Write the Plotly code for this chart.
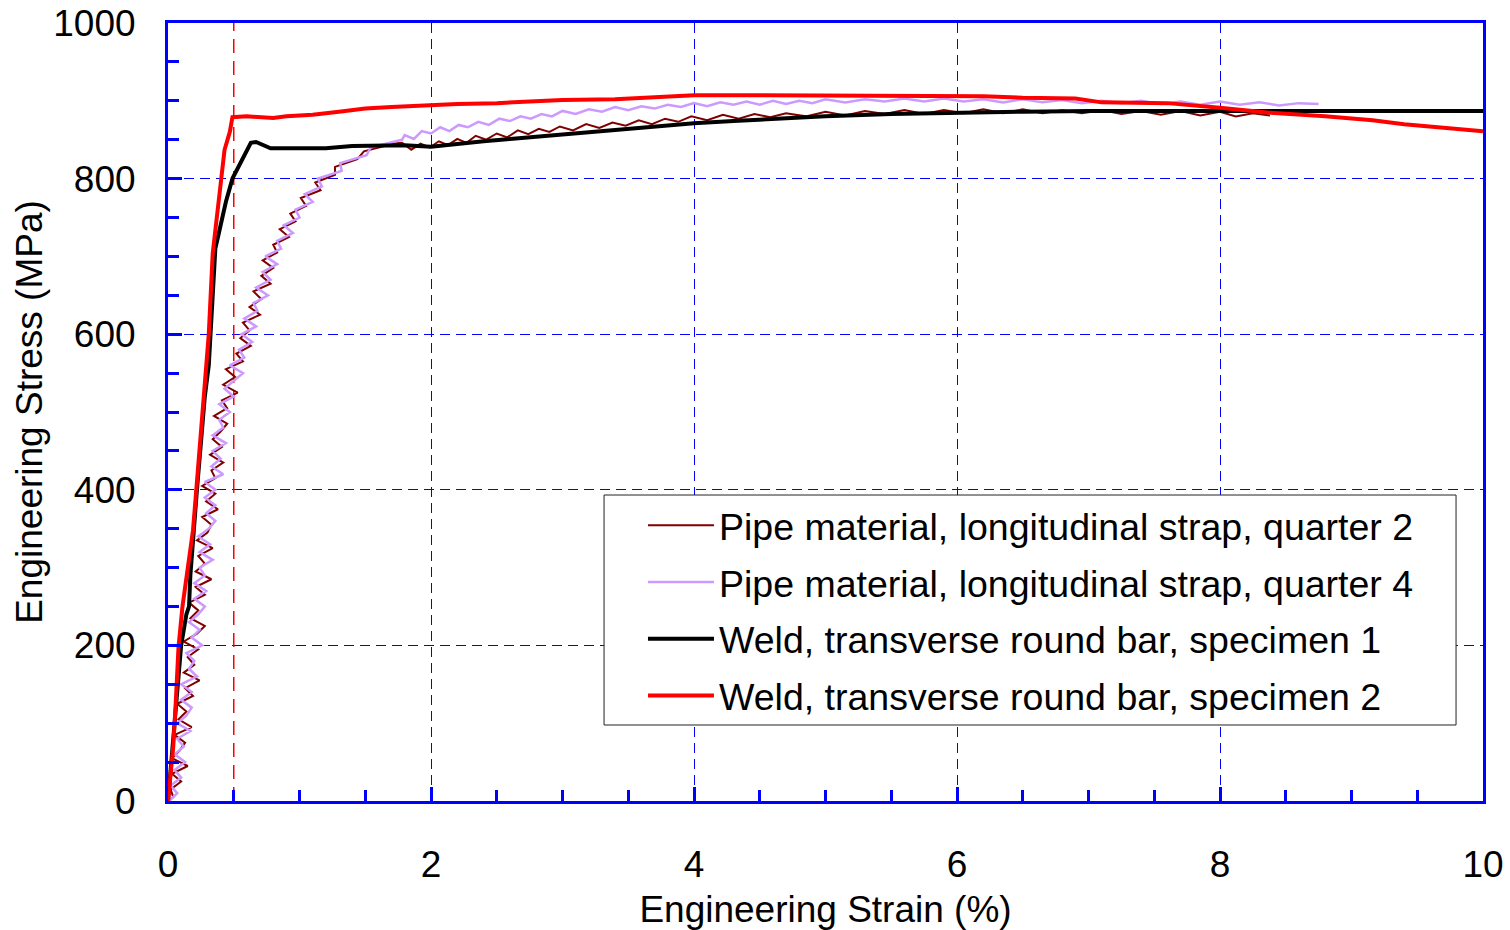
import plotly.graph_objects as go

# ---------------- data ----------------
# Pipe material, longitudinal strap, quarter 2 (noisy record)
q2_strain = [0.00, 0.04, 0.02, 0.10, 0.03, 0.15, 0.03, 0.09, 0.13, 0.05, 0.18, 0.08, 0.14, 0.07, 0.19, 0.13,
             0.24, 0.12, 0.20, 0.15, 0.23, 0.12, 0.22, 0.28, 0.17, 0.23, 0.16, 0.28, 0.21, 0.33, 0.21,
             0.28, 0.23, 0.34, 0.22, 0.30, 0.33, 0.26, 0.38, 0.29, 0.36, 0.26, 0.36, 0.33, 0.42, 0.32,
             0.41, 0.34, 0.40, 0.45, 0.35, 0.45, 0.41, 0.53, 0.42, 0.51, 0.44, 0.57, 0.52, 0.63, 0.55,
             0.62, 0.57, 0.70, 0.62, 0.71, 0.65, 0.78, 0.71, 0.80, 0.72, 0.83, 0.80, 0.92, 0.85, 0.97,
             0.93, 1.05, 1.01, 1.16, 1.12, 1.27, 1.27, 1.44, 1.49, 1.72,
             1.78, 1.85, 1.92, 1.99, 2.06, 2.13, 2.20, 2.27, 2.34, 2.42, 2.50, 2.58, 2.66, 2.74, 2.82, 2.90,
             2.98, 3.08, 3.18, 3.28, 3.38, 3.48, 3.58, 3.68, 3.78, 3.88, 3.98, 4.10, 4.22, 4.34, 4.46, 4.58,
             4.70, 4.85, 5.00, 5.15, 5.30, 5.45, 5.60, 5.75, 5.90, 6.05, 6.20, 6.35, 6.50, 6.65, 6.80, 6.95,
             7.10, 7.25, 7.40, 7.55, 7.70, 7.85, 8.00, 8.12, 8.25, 8.38]
q2_stress = [0, 5, 15, 25, 35, 45, 55, 65, 75, 85, 95, 105, 115, 125, 135, 145,
             155, 165, 175, 185, 195, 205, 215, 225, 235, 245, 255, 265, 275, 285, 295,
             305, 315, 325, 335, 345, 355, 365, 375, 385, 395, 405, 415, 425, 435, 445,
             455, 465, 475, 485, 495, 505, 515, 525, 535, 545, 555, 565, 575, 585, 595,
             605, 615, 625, 635, 645, 655, 665, 675, 685, 695, 705, 715, 725, 735, 745,
             755, 765, 775, 785, 795, 805, 815, 825, 835, 845,
             846, 837, 845, 840, 848, 843, 851, 846, 855, 850, 858, 853, 862, 857, 864, 860,
             867, 862, 870, 865, 872, 868, 875, 870, 877, 873, 880, 875, 882, 877, 883, 879,
             884, 880, 886, 881, 887, 883, 888, 883, 888, 884, 889, 884, 889, 884, 888, 884,
             888, 883, 887, 882, 887, 881, 886, 880, 884, 881]

# Pipe material, longitudinal strap, quarter 4 (noisy record)
q4_strain = [0.01, 0.07, 0.02, 0.10, 0.05, 0.13, 0.05, 0.12, 0.07, 0.17, 0.07, 0.14, 0.18, 0.10, 0.18, 0.10,
             0.22, 0.16, 0.20, 0.14, 0.26, 0.18, 0.24, 0.16, 0.23, 0.28, 0.20, 0.29, 0.20, 0.28, 0.24,
             0.34, 0.24, 0.32, 0.23, 0.31, 0.36, 0.29, 0.36, 0.28, 0.36, 0.28, 0.42, 0.33, 0.40, 0.34,
             0.44, 0.34, 0.42, 0.39, 0.47, 0.39, 0.50, 0.43, 0.50, 0.57, 0.47, 0.58, 0.54, 0.64, 0.56,
             0.67, 0.58, 0.68, 0.65, 0.76, 0.67, 0.78, 0.72, 0.83, 0.74, 0.86, 0.83, 0.95, 0.88, 1.00,
             0.97, 1.10, 1.04, 1.17, 1.14, 1.32, 1.31, 1.51, 1.54, 1.78,
             1.80, 1.87, 1.93, 2.00, 2.07, 2.14, 2.21, 2.28, 2.36, 2.44, 2.52, 2.60, 2.68, 2.76, 2.84, 2.92,
             3.00, 3.10, 3.20, 3.30, 3.40, 3.50, 3.60, 3.70, 3.80, 3.90, 4.00, 4.10, 4.20, 4.30, 4.40, 4.50,
             4.60, 4.70, 4.80, 4.90, 5.00, 5.15, 5.30, 5.45, 5.60, 5.75, 5.90, 6.05, 6.20, 6.35, 6.50, 6.65,
             6.80, 6.95, 7.10, 7.25, 7.40, 7.55, 7.70, 7.85, 8.00, 8.15, 8.30, 8.45, 8.60, 8.75]
q4_stress = [0, 10, 20, 30, 40, 50, 60, 70, 80, 90, 100, 110, 120, 130, 140, 150,
             160, 170, 180, 190, 200, 210, 220, 230, 240, 250, 260, 270, 280, 290, 300,
             310, 320, 330, 340, 350, 360, 370, 380, 390, 400, 410, 420, 430, 440, 450,
             460, 470, 480, 490, 500, 510, 520, 530, 540, 550, 560, 570, 580, 590, 600,
             610, 620, 630, 640, 650, 660, 670, 680, 690, 700, 710, 720, 730, 740, 750,
             760, 770, 780, 790, 800, 810, 820, 830, 840, 850,
             856, 851, 861, 858, 866, 861, 869, 866, 873, 869, 877, 874, 880, 877, 883, 880,
             887, 883, 889, 886, 892, 888, 893, 890, 895, 892, 897, 893, 898, 895, 899, 895,
             900, 896, 900, 897, 902, 898, 902, 899, 903, 899, 903, 899, 902, 898, 902, 898,
             901, 897, 900, 897, 900, 896, 899, 895, 899, 895, 898, 894, 897, 896]

# Weld, transverse round bar, specimen 1
w1_strain = [0.00, 0.02, 0.04, 0.07, 0.10, 0.14, 0.16, 0.17, 0.19, 0.22, 0.25, 0.28, 0.31, 0.33, 0.35, 0.36,
             0.38, 0.40, 0.44, 0.49, 0.55, 0.60, 0.63, 0.67, 0.72, 0.78, 1.00, 1.20, 1.40, 1.60, 1.80, 2.00,
             2.20, 2.40, 2.60, 2.80, 3.00, 3.20, 3.40, 3.60, 3.80, 4.00, 4.30, 4.60, 5.00, 5.50, 6.00, 6.50,
             7.00, 7.50, 8.00, 8.50, 9.00, 9.50, 10.00]
w1_stress = [0, 40, 70, 130, 200, 240, 250, 290, 340, 400, 460, 520, 560, 620, 680, 710,
             725, 740, 770, 800, 820, 835, 846, 847, 843, 839, 839, 839, 842, 843, 843, 841,
             845, 848, 851, 854, 857, 859, 862, 865, 868, 871, 874, 877, 880, 883, 885, 886,
             887, 887, 888, 888, 888, 888, 887]

# Weld, transverse round bar, specimen 2
w2_strain = [0.00, 0.02, 0.04, 0.06, 0.08, 0.11, 0.14, 0.17, 0.19, 0.22, 0.25, 0.28, 0.31, 0.34, 0.38, 0.43,
             0.47, 0.48, 0.49, 0.60, 0.80, 0.90, 1.10, 1.30, 1.50, 1.70, 1.90, 2.00, 2.20, 2.50, 2.80, 3.00,
             3.40, 3.70, 4.00, 4.50, 5.00, 5.50, 6.00, 6.20, 6.50, 6.90, 7.10, 7.60, 8.00, 8.36, 8.80, 9.16,
             9.40, 10.00]
w2_stress = [0, 40, 70, 130, 198, 250, 290, 330, 348, 410, 470, 530, 600, 704, 760, 837,
             860, 870, 879, 880, 878, 880, 882, 886, 890, 892, 894, 895, 896, 897, 899, 901,
             902, 904, 907, 907, 907, 907, 907, 906, 904, 903, 898, 897, 891, 885, 880, 875,
             870, 861]

# reference line (0.5 % strain)
ref_strain = [0.5, 0.5]
ref_stress = [0, 1000]

x_ticks = [0, 2, 4, 6, 8, 10]
y_ticks = [0, 200, 400, 600, 800, 1000]

FONT = "Liberation Sans, Arial, sans-serif"
BLUE = "#0000FF"

fig = go.Figure()
fig.add_trace(go.Scatter(x=ref_strain, y=ref_stress, mode="lines", showlegend=False,
                         line=dict(color="#FF0000", width=1.5, dash="14px,8px"), hoverinfo="skip"))
fig.add_trace(go.Scatter(x=q2_strain, y=q2_stress, mode="lines", legendgroup="a",
                         name="Pipe material, longitudinal strap, quarter 2",
                         line=dict(color="#800000", width=2)))
fig.add_trace(go.Scatter(x=q4_strain, y=q4_stress, mode="lines", legendgroup="b",
                         name="Pipe material, longitudinal strap, quarter 4",
                         line=dict(color="#CC99FF", width=2.5)))
fig.add_trace(go.Scatter(x=w1_strain, y=w1_stress, mode="lines", legendgroup="c",
                         name="Weld, transverse round bar, specimen 1",
                         line=dict(color="#000000", width=4)))
fig.add_trace(go.Scatter(x=w2_strain, y=w2_stress, mode="lines", legendgroup="d",
                         name="Weld, transverse round bar, specimen 2",
                         line=dict(color="#FF0000", width=4)))

# legend frame
fig.add_shape(type="rect", xref="paper", yref="paper",
              x0=0.3316, x1=0.9795, y0=0.0977, y1=0.3933,
              line=dict(color="#222222", width=1), fillcolor="white", layer="above")

fig.update_layout(
    width=1510, height=930,
    margin=dict(l=168, r=27, t=23, b=129),
    paper_bgcolor="white", plot_bgcolor="white",
    font=dict(family=FONT, size=37, color="black"),
    legend=dict(x=0.3612, y=0.394, xanchor="left", yanchor="top",
                bgcolor="rgba(0,0,0,0)", borderwidth=0,
                font=dict(family=FONT, size=37.5, color="black"),
                itemwidth=66, tracegroupgap=5),
    xaxis=dict(range=[0, 10], tickvals=x_ticks, ticktext=[str(v) for v in x_ticks],
               showline=True, linecolor=BLUE, linewidth=3, mirror=True,
               ticks="inside", ticklen=14, tickwidth=3, tickcolor=BLUE,
               minor=dict(dtick=0.5, ticks="inside", ticklen=11, tickwidth=3, tickcolor=BLUE, showgrid=False),
               showgrid=True, gridcolor=BLUE, gridwidth=1, griddash="10px,6px",
               zeroline=False, ticklabelstandoff=29, automargin=False,
               title=dict(text="Engineering Strain (%)", font=dict(size=37), standoff=12)),
    yaxis=dict(range=[0, 1000], tickvals=y_ticks, ticktext=[str(v) for v in y_ticks],
               showline=True, linecolor=BLUE, linewidth=3, mirror=True,
               ticks="inside", ticklen=14, tickwidth=3, tickcolor=BLUE,
               minor=dict(dtick=50, ticks="inside", ticklen=11, tickwidth=3, tickcolor=BLUE, showgrid=False),
               showgrid=True, gridcolor=BLUE, gridwidth=1, griddash="10px,6px",
               zeroline=False, ticklabelstandoff=22, automargin=False,
               title=dict(text="Engineering Stress (MPa)", font=dict(size=37), standoff=0)),
)

fig.write_html("out.html")
